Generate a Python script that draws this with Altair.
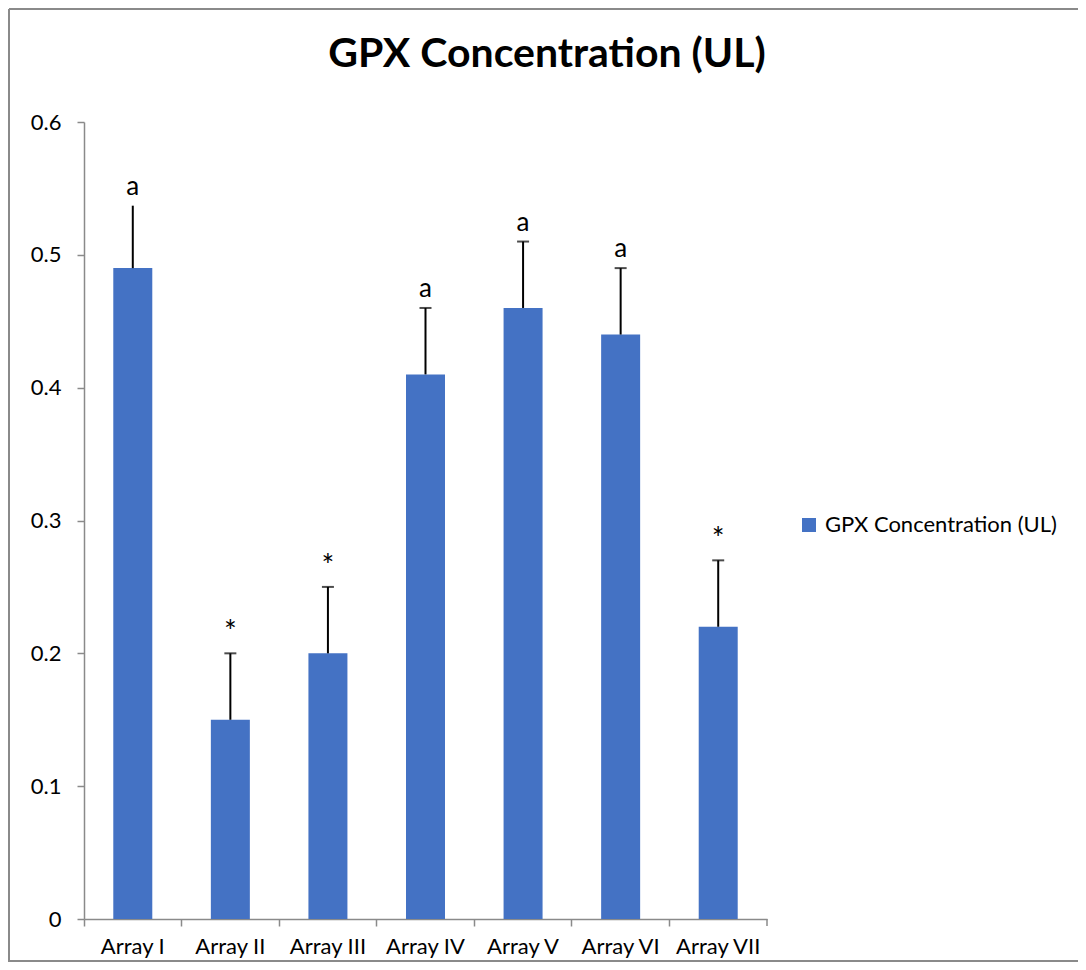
import altair as alt
import pandas as pd

categories = ["Array I", "Array II", "Array III", "Array IV", "Array V", "Array VI", "Array VII"]
values = [0.49, 0.15, 0.20, 0.41, 0.46, 0.44, 0.22]
errors = [0.047, 0.05, 0.05, 0.05, 0.05, 0.05, 0.05]
letters = ["a", "*", "*", "a", "a", "a", "*"]
has_cap = [False, True, True, True, True, True, True]
series_name = "GPX Concentration (UL)"
y_ticks = [0, 0.1, 0.2, 0.3, 0.4, 0.5, 0.6]

FONT = "Lato"
BAR = "#4472C4"
GRAY = "#8a8a8a"

df = pd.DataFrame({
    "cat": categories,
    "value": values,
    "top": [v + e for v, e in zip(values, errors)],
    "letter": letters,
    "cap": has_cap,
    "series": series_name,
})
one = pd.DataFrame({"title": [series_name]})

W, H = 683, 797

xenc = alt.X("cat:N", sort=categories,
             scale=alt.Scale(paddingInner=0, paddingOuter=0),
             axis=alt.Axis(title=None, bandPosition=0, tickSize=7, tickColor=GRAY,
                           domainColor=GRAY, domainWidth=1.5, tickWidth=1.5,
                           labelFont=FONT, labelFontSize=22, labelColor="#000",
                           labelPadding=10, labelAngle=0))
yenc = alt.Y("value:Q", scale=alt.Scale(domain=[0, 0.6], nice=False),
             axis=alt.Axis(title=None, values=y_ticks, format="~g", grid=False,
                           tickSize=7, tickColor=GRAY, domainColor=GRAY, domainWidth=1.5,
                           tickWidth=1.5, labelFont=FONT, labelFontSize=22,
                           labelColor="#000", labelPadding=16))

base = alt.Chart(df)

bars = base.mark_bar(size=39).encode(
    x=xenc,
    y=yenc,
    color=alt.Color("series:N",
                    scale=alt.Scale(domain=[series_name], range=[BAR]),
                    legend=alt.Legend(title=None, orient="none", legendX=714, legendY=392,
                                      symbolType="square", symbolSize=196,
                                      symbolStrokeWidth=0, labelFont=FONT,
                                      labelFontSize=22, labelColor="#000",
                                      labelOffset=5, padding=0, labelLimit=0)),
)

err = base.mark_rule(color="#000", strokeWidth=2).encode(
    x=alt.X("cat:N", sort=categories),
    y="value:Q",
    y2="top:Q",
)

caps = base.transform_filter(alt.datum.cap).mark_tick(
    color="#000", size=12, thickness=2
).encode(
    x=alt.X("cat:N", sort=categories),
    y="top:Q",
)

labels = base.mark_text(font=FONT, color="#000", baseline="alphabetic", dy=-11).encode(
    x=alt.X("cat:N", sort=categories),
    y="top:Q",
    text="letter:N",
    size=alt.condition(alt.datum.letter == "*", alt.value(30), alt.value(26)),
)

end_tick = alt.Chart(one).mark_rule(color=GRAY, strokeWidth=1.5).encode(
    x=alt.value(W), y=alt.value(H), y2=alt.value(H + 7)
)

title = alt.Chart(one).mark_text(font=FONT, fontSize=41, fontWeight="bold", color="#000",
                                 align="center", baseline="alphabetic").encode(
    x=alt.value(463), y=alt.value(-55), text="title:N"
)

border_left = alt.Chart(one).mark_rule(color=GRAY, strokeWidth=2).encode(
    x=alt.value(-75), y=alt.value(-113), y2=alt.value(840)
)
border_top = alt.Chart(one).mark_rule(color=GRAY, strokeWidth=2).encode(
    x=alt.value(-75), x2=alt.value(1000), y=alt.value(-113)
)
border_bottom = alt.Chart(one).mark_rule(color=GRAY, strokeWidth=2).encode(
    x=alt.value(-75), x2=alt.value(1000), y=alt.value(839)
)

chart = alt.layer(
    border_left, border_top, border_bottom, title,
    bars, err, caps, labels, end_tick,
).properties(
    width=W,
    height=H,
    padding={"left": 76, "top": 114, "right": 311, "bottom": 43},
    autosize=alt.AutoSizeParams(type="none"),
).configure(background="white", view=alt.ViewConfig(stroke=None))

chart.save("out.html", embed_options={"renderer": "svg", "actions": False})
